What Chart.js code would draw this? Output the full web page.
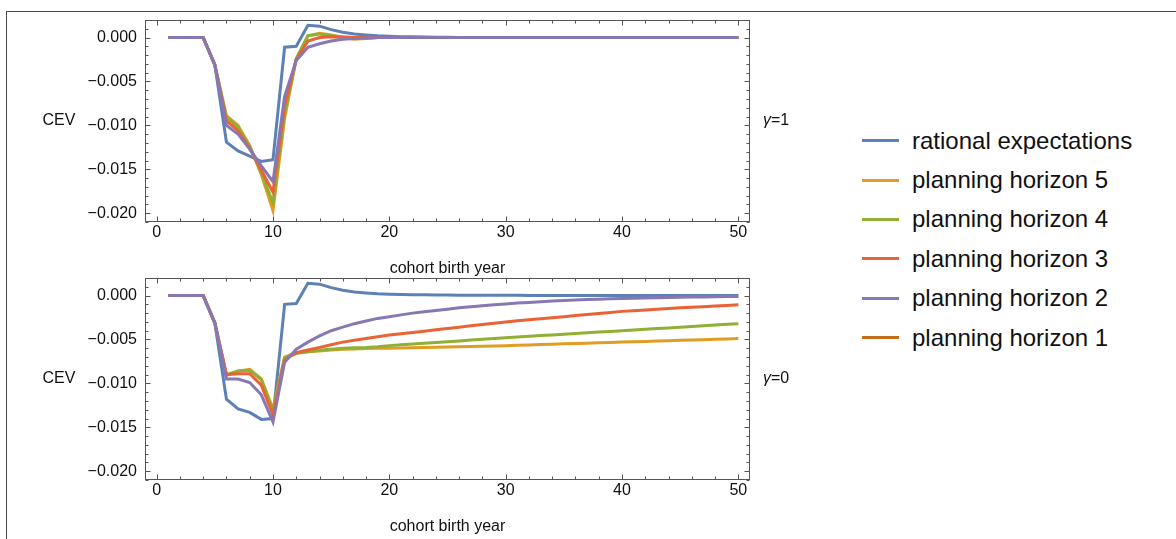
<!DOCTYPE html>
<html>
<head>
<meta charset="utf-8">
<script src="https://cdn.jsdelivr.net/npm/chart.js@4/dist/chart.umd.min.js"></script>
<style>
  body { margin: 0; background: #fff; width: 1176px; height: 539px; overflow: hidden; position: relative; font-family: "Liberation Sans", Arial, sans-serif; }
  #outer { position: absolute; left: 6px; top: 11px; width: 1300px; height: 700px; border-left: 1px solid #4a4a4a; border-top: 1px solid #4a4a4a; }
  canvas { position: absolute; left: 0; }
  #legend { position: absolute; left: 862px; top: 121px; }
  .row { height: 39.4px; display: flex; align-items: center; }
  .swatch { width: 37px; height: 3px; margin-right: 13px; }
  .row span { font-size: 24px; color: #111; }
</style>
</head>
<body>
<div id="outer"></div>
<canvas id="topPanel" width="800" height="281" style="top:0px"></canvas>
<canvas id="bottomPanel" width="800" height="281" style="top:258px"></canvas>
<div id="legend"></div>
<script>
// cohort birth years
const years = [1,2,3,4,5,6,7,8,9,10,11,12,13,14,15,16,17,18,19,20,21,22,23,24,25,
  26,27,28,29,30,31,32,33,34,35,36,37,38,39,40,41,42,43,44,45,46,47,48,49,50];

const seriesNames = ['rational expectations', 'planning horizon 5', 'planning horizon 4',
  'planning horizon 3', 'planning horizon 2', 'planning horizon 1'];
const seriesColors = ['#5E81B5', '#E19C24', '#8FB032', '#EB6235', '#8778B3', '#C56E1A'];

const xTicks = [0, 10, 20, 30, 40, 50];
const yTicks = [-0.020, -0.015, -0.010, -0.005, 0.000];

// gamma = 1
const re1 = [0,0,0,0,-0.0031,-0.0119,-0.0129,-0.0135,-0.0141,-0.0139,-0.0011,-0.0010,0.0014,0.0013,0.0009,
  0.0006,0.0004,0.0003,0.0002,0.00015,0.0001,0.00008,0.00006,0.00004,0.00003,0.00002,0.00002,0.00001,0,0,
  0,0,0,0,0,0,0,0,0,0,0,0,0,0,0,0,0,0,0,0];
const ph5g1 = [0,0,0,0,-0.0031,-0.0089,-0.0100,-0.0123,-0.0156,-0.0197,-0.0092,-0.0024,0.0002,0.0005,0.0003,
  0.0000,-0.0002,-0.0001,0,0,0,0,0,0,0,0,0,0,0,0,0,0,0,0,0,0,0,0,0,0,0,0,0,0,0,0,0,0,0,0];
const ph4g1 = [0,0,0,0,-0.0031,-0.0091,-0.0102,-0.0124,-0.0154,-0.0188,-0.0087,-0.0024,0.0002,0.0004,0.0002,
  0.0001,0,-0.0001,0,0,0,0,0,0,0,0,0,0,0,0,0,0,0,0,0,0,0,0,0,0,0,0,0,0,0,0,0,0,0,0];
const ph3g1 = [0,0,0,0,-0.0031,-0.0095,-0.0106,-0.0126,-0.0151,-0.0176,-0.0078,-0.0025,-0.0004,0.0000,0.0001,
  0,0,0,0,0,0,0,0,0,0,0,0,0,0,0,0,0,0,0,0,0,0,0,0,0,0,0,0,0,0,0,0,0,0,0];
const ph2g1 = [0,0,0,0,-0.0031,-0.0100,-0.0110,-0.0127,-0.0146,-0.0164,-0.0067,-0.0026,-0.0011,-0.0007,-0.0004,
  -0.0002,-0.0001,-0.00005,0,0,0,0,0,0,0,0,0,0,0,0,0,0,0,0,0,0,0,0,0,0,0,0,0,0,0,0,0,0,0,0];

// gamma = 0
const re0 = [0,0,0,0,-0.0031,-0.0118,-0.0129,-0.0133,-0.0141,-0.0140,-0.0010,-0.0009,0.0014,0.0013,0.0009,
  0.0006,0.0004,0.0003,0.0002,0.00015,0.00012,0.0001,0.00008,0.00007,0.00006,0.00005,0.00004,0.00004,0.00003,0.00003,
  0.00003,0.00002,0.00002,0.00002,0.00002,0.00001,0.00001,0.00001,0.00001,0.00001,0,0,0,0,0,0,0,0,0,0];
const ph5g0 = [0,0,0,0,-0.0031,-0.0091,-0.0086,-0.0084,-0.0095,-0.0129,-0.0070,-0.0065,-0.0064,-0.0063,-0.0062,
  -0.0061,-0.00607,-0.00604,-0.00601,-0.0060,-0.00597,-0.00594,-0.00591,-0.00588,-0.00585,-0.00582,-0.00579,-0.00576,-0.00573,-0.0057,
  -0.00566,-0.00562,-0.00558,-0.00554,-0.0055,-0.00546,-0.00542,-0.00538,-0.00534,-0.0053,
  -0.00526,-0.00522,-0.00518,-0.00514,-0.0051,-0.00506,-0.00502,-0.00498,-0.00494,-0.0049];
const ph4g0 = [0,0,0,0,-0.0031,-0.0090,-0.0086,-0.0085,-0.0096,-0.0131,-0.0071,-0.0066,-0.0064,-0.0062,-0.0061,
  -0.0060,-0.00595,-0.0059,-0.00582,-0.0057,-0.00561,-0.00552,-0.00543,-0.00534,-0.00525,-0.00516,-0.00507,-0.00498,-0.00489,-0.0048,
  -0.00472,-0.00464,-0.00456,-0.00448,-0.0044,-0.00432,-0.00424,-0.00416,-0.00408,-0.0040,
  -0.00392,-0.00384,-0.00376,-0.00368,-0.0036,-0.00352,-0.00344,-0.00336,-0.00328,-0.0032];
const ph3g0 = [0,0,0,0,-0.0031,-0.0090,-0.0089,-0.0089,-0.0102,-0.0136,-0.0073,-0.0065,-0.0062,-0.0059,-0.0056,
  -0.0053,-0.0051,-0.0049,-0.0047,-0.0045,-0.00435,-0.0042,-0.00405,-0.0039,-0.00375,-0.0036,-0.00345,-0.0033,-0.00315,-0.0030,
  -0.00288,-0.00276,-0.00264,-0.00252,-0.0024,-0.00228,-0.00216,-0.00204,-0.00192,-0.0018,
  -0.00172,-0.00164,-0.00156,-0.00148,-0.0014,-0.00133,-0.00126,-0.00119,-0.00112,-0.00105];
const ph2g0 = [0,0,0,0,-0.0031,-0.0095,-0.0095,-0.0099,-0.0113,-0.0144,-0.0076,-0.0061,-0.0053,-0.0046,-0.0040,
  -0.0036,-0.0032,-0.0029,-0.0026,-0.0024,-0.0022,-0.0020,-0.00185,-0.0017,-0.00155,-0.0014,-0.00128,-0.00116,-0.00105,-0.00095,
  -0.00086,-0.00078,-0.0007,-0.00063,-0.00057,-0.00051,-0.00046,-0.00041,-0.00037,-0.00033,
  -0.0003,-0.00027,-0.00024,-0.00021,-0.00019,-0.00017,-0.00015,-0.00013,-0.00012,-0.0001];

const FONT = '"Liberation Sans", Arial, sans-serif';
const FRAME = '#555';

// frame with inward ticks on all four sides, plus CEV and gamma labels
const framePlugin = {
  id: 'frame',
  afterDatasetsDraw(chart, args, opts) {
    const { ctx, chartArea: a, scales: { x, y } } = chart;
    const L = Math.round(a.left) + 0.5, R = Math.round(a.right) - 0.5;
    const T = Math.round(a.top) + 0.5, B = Math.round(a.bottom) - 0.5;
    ctx.save();
    ctx.strokeStyle = FRAME;
    ctx.lineWidth = 1;
    ctx.strokeRect(L, T, R - L, B - T);
    ctx.beginPath();
    for (let v = 0; v <= 50; v += 2) {
      const px = Math.round(x.getPixelForValue(v)) + 0.5;
      const len = v % 10 === 0 ? 5 : 3;
      ctx.moveTo(px, B); ctx.lineTo(px, B - len);
      ctx.moveTo(px, T); ctx.lineTo(px, T + len);
    }
    for (let k = -21; k <= 2; k++) {
      const py = Math.round(y.getPixelForValue(k / 1000)) + 0.5;
      const len = k % 5 === 0 ? 5 : 3;
      ctx.moveTo(L, py); ctx.lineTo(L + len, py);
      ctx.moveTo(R, py); ctx.lineTo(R - len, py);
    }
    ctx.stroke();

    const midY = (a.top + a.bottom) / 2;
    ctx.fillStyle = '#111';
    ctx.textBaseline = 'middle';
    ctx.font = '16px ' + FONT;
    ctx.textAlign = 'center';
    ctx.fillText('CEV', 59, midY);
    ctx.textAlign = 'left';
    ctx.font = 'italic 16px ' + FONT;
    ctx.fillText('γ', a.right + 13, midY);
    const gw = ctx.measureText('γ').width;
    ctx.font = '16px ' + FONT;
    ctx.fillText('=' + opts.gamma, a.right + 13 + gw, midY);
    ctx.restore();
  }
};

function fmt(v) {
  return (v < 0 ? '\u2212' : '') + Math.abs(v).toFixed(3);
}

function makePanel(id, seriesList, gamma) {
  const datasets = seriesList.map((vals, i) => ({
    label: seriesNames[i],
    data: years.map((yr, j) => ({ x: yr, y: vals[j] })),
    borderColor: seriesColors[i],
    backgroundColor: seriesColors[i],
    borderWidth: 3,
    pointRadius: 0,
    tension: 0,
    fill: false,
    order: seriesList.length - i
  }));
  return new Chart(document.getElementById(id), {
    type: 'line',
    data: { datasets: datasets },
    options: {
      responsive: false,
      animation: false,
      devicePixelRatio: 1,
      layout: { padding: { top: 20, right: 50, left: 0, bottom: 0 } },
      plugins: {
        legend: { display: false },
        tooltip: { enabled: false },
        frame: { gamma: gamma }
      },
      scales: {
        x: {
          type: 'linear',
          min: -1,
          max: 51,
          afterBuildTicks: s => { s.ticks = xTicks.map(v => ({ value: v })); },
          afterFit: s => { s.height = 59; },
          grid: { display: false, drawTicks: false, tickLength: 0 },
          border: { display: false },
          ticks: { font: { family: FONT, size: 16 }, color: '#111', padding: 1, maxRotation: 0, autoSkip: false },
          title: { display: true, text: 'cohort birth year', font: { family: FONT, size: 16 }, color: '#111', padding: { top: 0, bottom: 3 } }
        },
        y: {
          min: -0.021,
          max: 0.002,
          afterBuildTicks: s => { s.ticks = yTicks.map(v => ({ value: v })); },
          afterFit: s => { s.width = 145; },
          grid: { display: false, drawTicks: false, tickLength: 0 },
          border: { display: false },
          ticks: { font: { family: FONT, size: 16 }, color: '#111', padding: 8, callback: v => fmt(v) }
        }
      }
    },
    plugins: [framePlugin]
  });
}

makePanel('topPanel', [re1, ph5g1, ph4g1, ph3g1, ph2g1], '1');
makePanel('bottomPanel', [re0, ph5g0, ph4g0, ph3g0, ph2g0], '0');

// legend on the right
const legend = document.getElementById('legend');
seriesNames.forEach((name, i) => {
  const row = document.createElement('div');
  row.className = 'row';
  row.innerHTML = `<div class="swatch" style="background:${seriesColors[i]}"></div><span>${name}</span>`;
  legend.appendChild(row);
});
</script>
</body>
</html>
